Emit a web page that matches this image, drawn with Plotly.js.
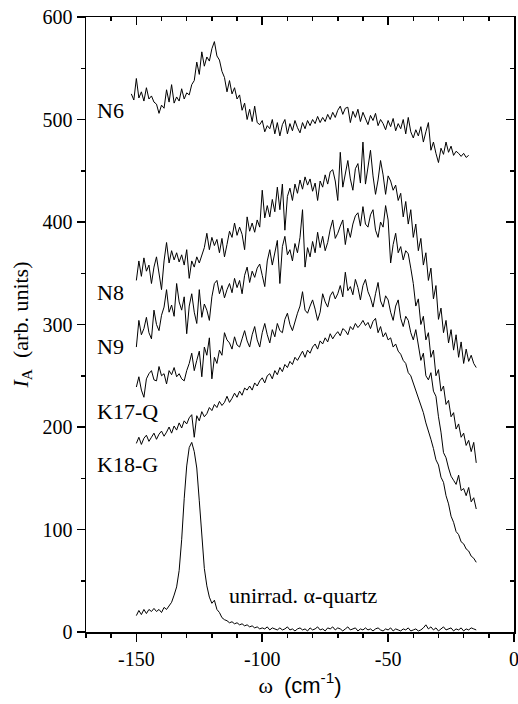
<!DOCTYPE html>
<html>
<head>
<meta charset="utf-8">
<script src="https://cdn.plot.ly/plotly-3.0.1.min.js"></script>
<style>html,body{margin:0;padding:0;background:#fff}#chart{width:518px;height:704px}</style>
</head>
<body>
<div id="chart"></div>
<script>
// wavenumber grid (cm^-1), -152 ... -15
var omega = [-152,-151,-150,-149,-148,-147,-146,-145,-144,-143,-142,-141,-140,-139,-138,-137,-136,-135,-134,-133,-132,-131,-130,-129,-128,-127,-126,-125,-124,-123,-122,-121,-120,-119,-118,-117,-116,-115,-114,-113,-112,-111,-110,-109,-108,-107,-106,-105,-104,-103,-102,-101,-100,-99,-98,-97,-96,-95,-94,-93,-92,-91,-90,-89,-88,-87,-86,-85,-84,-83,-82,-81,-80,-79,-78,-77,-76,-75,-74,-73,-72,-71,-70,-69,-68,-67,-66,-65,-64,-63,-62,-61,-60,-59,-58,-57,-56,-55,-54,-53,-52,-51,-50,-49,-48,-47,-46,-45,-44,-43,-42,-41,-40,-39,-38,-37,-36,-35,-34,-33,-32,-31,-30,-29,-28,-27,-26,-25,-24,-23,-22,-21,-20,-19,-18,-17,-16,-15];

// N6: -152 ... -18
var N6 = [525,519,540,521,527,518,531,520,523,517,
515,506,514,511,529,517,534,516,522,518,
530,520,526,524,534,538,556,544,566,552,
561,557,569,576,562,558,547,541,527,538,
525,531,520,524,509,516,500,510,498,513,
497,495,499,488,494,491,500,486,497,484,
495,500,486,496,489,499,492,487,497,491,
499,494,500,496,503,497,502,498,505,500,
507,502,509,513,505,511,512,497,508,502,
510,498,507,501,495,504,499,506,494,500,
496,490,499,493,501,489,496,491,500,486,
502,488,482,490,484,493,478,488,497,470,
478,467,458,472,466,478,468,474,465,469,
467,464,467,463,465];

// the following series: -150 ... -15
var N8 = [343,362,347,365,352,358,340,356,366,348,
334,362,380,360,372,363,370,361,368,358,
373,345,362,356,366,360,368,375,389,373,
385,377,383,370,384,366,378,391,385,399,
387,395,388,373,405,391,399,390,402,395,
431,404,416,405,422,410,434,412,437,392,
425,433,421,437,428,441,432,444,436,442,
430,438,421,440,434,446,437,449,451,440,
421,468,434,449,460,442,431,452,457,438,
478,437,452,470,445,427,441,460,446,427,
445,440,431,436,421,428,405,420,398,412,
385,398,372,384,358,370,343,355,325,338,
305,316,292,304,282,295,275,290,268,283,
262,276,264,270,262,258];

var N9 = [278,304,290,296,307,292,286,314,300,294,
309,317,334,312,319,308,340,322,314,327,
291,318,330,312,301,334,307,320,314,304,
327,340,343,330,338,326,334,340,331,345,
336,343,330,348,356,341,352,346,355,359,
348,337,362,373,358,370,382,340,376,386,
368,373,362,379,370,385,412,356,375,366,
381,370,390,375,386,372,380,393,402,384,
389,396,402,378,394,385,398,406,409,396,
415,398,395,407,412,392,385,400,395,416,
402,360,378,389,370,376,363,372,369,355,
340,318,325,300,308,285,292,268,275,250,
256,235,240,222,226,210,214,198,203,190,
194,182,187,176,185,165];

var K17Q = [239,249,236,229,247,252,255,246,245,259,
250,252,242,255,251,258,249,252,247,245,
255,262,272,255,265,274,249,278,270,287,
247,268,262,275,270,292,285,282,276,288,
280,278,286,294,284,278,290,298,285,278,
292,301,290,282,295,288,301,294,292,305,
311,300,294,304,311,318,332,314,311,318,
324,315,304,312,330,322,317,328,332,325,
330,338,327,351,333,337,329,344,336,324,
338,344,332,326,317,330,341,323,317,328,
324,312,304,318,324,306,298,308,304,292,
285,295,280,265,272,250,246,253,235,230,
210,195,175,170,160,152,148,144,153,138,
140,133,141,127,131,120];

var K18G = [184,190,183,189,192,186,190,194,188,193,
196,191,195,200,194,201,197,204,199,206,
203,209,212,190,211,206,215,210,213,219,
216,222,219,225,221,224,230,224,228,233,
229,235,231,238,236,240,236,243,240,245,
248,243,250,252,247,255,251,258,254,261,
258,264,261,268,265,270,274,268,275,272,
278,281,276,284,281,287,283,291,286,290,
293,289,296,294,290,298,295,301,297,300,
304,299,302,296,303,306,292,298,288,292,
285,287,278,281,274,271,265,262,253,250,
243,235,229,221,214,204,197,188,179,168,
163,151,146,133,125,113,107,98,95,88,
86,81,79,74,72,68];

var quartz = [16,21,17,22,18,22,20,23,20,22,
19,24,22,26,29,36,44,60,90,130,
162,180,185,176,160,128,90,62,45,34,
28,31,22,19,14,12,11,9,10,8,
9,7,8,6,7,5,6,4,5,3,
4,3,5,2,4,3,2,4,2,3,
5,2,3,1,3,4,2,3,1,4,
2,3,5,2,3,1,4,3,5,2,
4,3,1,3,5,2,3,4,1,3,
2,4,2,3,1,3,4,2,1,3,
2,4,1,3,2,1,3,2,4,1,
2,3,1,2,4,7,3,5,2,4,
1,3,5,2,3,4,1,3,2,4,
1,3,2,4,3,2];

var labels = ["N6","N8","N9","K17-Q","K18-G","unirrad. \u03b1-quartz"];
var labelX = [-166.4,-166.4,-166.4,-166.4,-166.4,-114];
var labelY = [509,331,279,215,163,36];

var xTickVals = [-150, -100, -50, 0];
var xTickText = ["-150", "-100", "-50", "0"];
var yTickVals = [0, 100, 200, 300, 400, 500, 600];
var yTickText = ["0", "100", "200", "300", "400", "500", "600"];

var xRange = [-170, 0];
var yRange = [0, 600];

var grid = omega.slice(2);
var serif = "'Liberation Serif', 'Times New Roman', serif";
var sans = "'Liberation Sans', Arial, sans-serif";
var line = {color: "#000", width: 1};

function tr(x, y) { return {x: x, y: y, type: "scatter", mode: "lines", line: line, showlegend: false, hoverinfo: "skip"}; }

var data = [
  tr(omega.slice(0, N6.length), N6),
  tr(grid, N8),
  tr(grid, N9),
  tr(grid, K17Q),
  tr(grid, K18G),
  tr(grid, quartz),
  {x: [], y: [], xaxis: "x2", yaxis: "y2", type: "scatter", mode: "lines", showlegend: false}
];

var annotations = labels.map(function (t, i) {
  return {x: labelX[i], y: labelY[i], xref: "x", yref: "y", text: t, showarrow: false,
          xanchor: "left", yanchor: "middle", font: {family: serif, size: 22, color: "#000"}};
});

var axCommon = {showgrid: false, zeroline: false, showline: true, linecolor: "#000", linewidth: 1.5,
  tickcolor: "#000", tickwidth: 1.5, ticklen: 8};

var layout = {
  width: 518, height: 704,
  margin: {l: 86, r: 4, t: 17, b: 72},
  paper_bgcolor: "#fff", plot_bgcolor: "#fff",
  font: {family: serif, size: 20, color: "#000"},
  showlegend: false,
  xaxis: Object.assign({}, axCommon, {
    range: xRange, tickmode: "array", tickvals: xTickVals, ticktext: xTickText, ticks: "outside", mirror: true,
    ticklabeloverflow: "allow",
    minor: {ticks: "outside", dtick: 10, tick0: 0, ticklen: 4, tickwidth: 1.5, tickcolor: "#000"},
    tickfont: {family: serif, size: 20, color: "#000"},
    title: {text: "\u03c9&nbsp;&nbsp;<span style=\"font-family:" + sans.replace(/'/g, "") + "\">(cm<sup>-1</sup>)</span>",
            font: {family: serif, size: 22, color: "#000"}, standoff: 3}
  }),
  yaxis: Object.assign({}, axCommon, {
    range: yRange, tickmode: "array", tickvals: yTickVals, ticktext: yTickText, ticks: "outside", mirror: true,
    ticklabeloverflow: "allow",
    minor: {ticks: "outside", dtick: 50, tick0: 0, ticklen: 4, tickwidth: 1.5, tickcolor: "#000"},
    tickfont: {family: serif, size: 20, color: "#000"},
    title: {text: "<i>I</i><sub>A</sub>&nbsp;&nbsp;(arb. units)", font: {family: serif, size: 22, color: "#000"}, standoff: 8}
  }),
  xaxis2: Object.assign({}, axCommon, {
    overlaying: "x", side: "top", anchor: "y2", range: xRange, tick0: 0, dtick: 50,
    ticks: "inside", showticklabels: false,
    minor: {ticks: "inside", dtick: 10, ticklen: 4, tickwidth: 1.5, tickcolor: "#000"}
  }),
  yaxis2: Object.assign({}, axCommon, {
    overlaying: "y", side: "right", anchor: "x2", range: yRange, tick0: 0, dtick: 100,
    ticks: "inside", showticklabels: false,
    minor: {ticks: "inside", dtick: 50, ticklen: 4, tickwidth: 1.5, tickcolor: "#000"}
  }),
  annotations: annotations
};

Plotly.newPlot("chart", data, layout, {staticPlot: true, displayModeBar: false});
</script>
</body>
</html>
